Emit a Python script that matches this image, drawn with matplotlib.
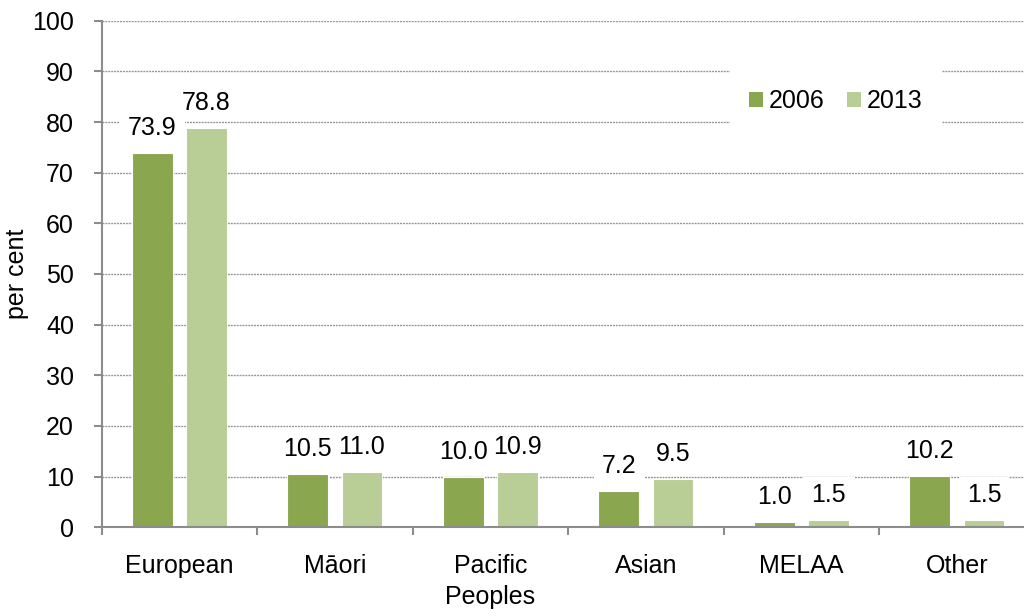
import matplotlib
matplotlib.use("Agg")
import matplotlib.pyplot as plt
from matplotlib.patches import Patch, Rectangle
import numpy as np

# Ethnic group shares (per cent)
categories = ["European", "M\u0101ori", "Pacific\nPeoples", "Asian", "MELAA", "Other"]
years = ["2006", "2013"]
values_2006 = [73.9, 10.5, 10.0, 7.2, 1.0, 10.2]
values_2013 = [78.8, 11.0, 10.9, 9.5, 1.5, 1.5]
y_ticks = [0, 10, 20, 30, 40, 50, 60, 70, 80, 90, 100]

plt.rcParams["font.family"] = ["Liberation Sans", "DejaVu Sans"]
FS = 18
dark = "#8AA64F"
light = "#B9CD96"
axis_grey = "#8C8C8C"
grid_grey = "#959595"

fig = plt.figure(figsize=(10.24, 6.16), dpi=100)
ax = fig.add_axes([0.0993, 0.1440, 0.9111, 0.8224])

x = np.arange(len(categories))
bw = 0.262
off = 0.174
b1 = ax.bar(x - off, values_2006, bw, color=dark, edgecolor="white", linewidth=0.8, zorder=2)
b2 = ax.bar(x + off, values_2013, bw, color=light, edgecolor="white", linewidth=0.8, zorder=2)

value_labels = []
for bars, vals in ((b1, values_2006), (b2, values_2013)):
    for rect, v in zip(bars, vals):
        t = ax.annotate(f"{v:.1f}", xy=(rect.get_x() + rect.get_width() / 2, v),
                        xytext=(0, 13.0), textcoords="offset points",
                        ha="center", va="baseline", fontsize=FS, color="black", zorder=4)
        value_labels.append(t)

ax.set_xlim(-0.5, len(categories) - 0.5)
ax.set_ylim(0, 100)
ax.set_yticks(y_ticks)
ax.set_yticklabels([str(t) for t in y_ticks], fontsize=FS)

ax.set_xticks(x)
ax.set_xticklabels(categories, fontsize=FS, linespacing=1.38)
ax.set_xticks(np.arange(-0.5, len(categories) + 0.5, 1.0), minor=True)
ax.tick_params(axis="x", which="major", length=0, pad=19)
ax.tick_params(axis="x", which="minor", length=5.5, width=1.5, color=axis_grey)
ax.tick_params(axis="y", length=6, width=1.5, color=axis_grey, pad=14)

for s in ("top", "right"):
    ax.spines[s].set_visible(False)
for s in ("left", "bottom"):
    ax.spines[s].set_color(axis_grey)
    ax.spines[s].set_linewidth(1.5)
    ax.spines[s].set_zorder(3)

ax.set_axisbelow(True)
ax.yaxis.grid(True, color=grid_grey, linestyle=(0, (1.4, 0.7)), linewidth=1.0)

fig.text(17.5 / 1024, 1 - 274 / 616, "per cent", rotation=90, ha="center", va="center", fontsize=FS)

handles = [Patch(facecolor=dark, edgecolor="none"), Patch(facecolor=light, edgecolor="none")]
leg = ax.legend(handles, years, ncol=2, loc="center",
                bbox_to_anchor=(836 / 1024, 1 - 101 / 616), bbox_transform=fig.transFigure,
                fontsize=FS, frameon=True, fancybox=False, framealpha=1,
                handlelength=0.55, handleheight=0.55, handletextpad=0.25,
                columnspacing=0.9, borderpad=0.75)
leg.get_frame().set_edgecolor("none")
leg.get_frame().set_facecolor("white")
leg.set_zorder(5)

# White backing behind every value label, kept beneath all label texts
fig.canvas.draw()
W, H = fig.bbox.width, fig.bbox.height
pad_x, pad_y = 8, 6
for t in value_labels:
    bb = t.get_window_extent()
    ax.add_patch(Rectangle(((bb.x0 - pad_x) / W, (bb.y0 - pad_y) / H),
                           (bb.width + 2 * pad_x) / W, (bb.height + 2 * pad_y) / H,
                           transform=fig.transFigure, facecolor="white",
                           edgecolor="none", zorder=3.5, clip_on=False))

fig.savefig("out.png", dpi=100)
